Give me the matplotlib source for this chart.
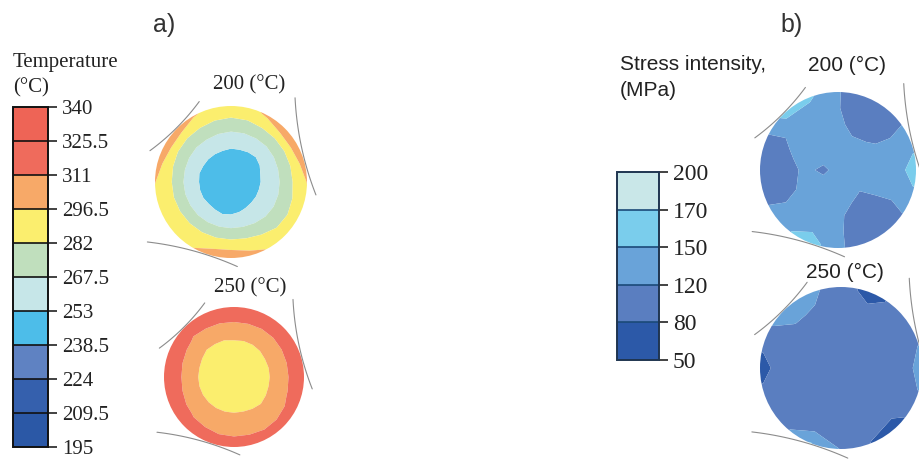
import numpy as np
import matplotlib
matplotlib.use('Agg')
import matplotlib.pyplot as plt
import matplotlib as mpl
from matplotlib.colors import ListedColormap, BoundaryNorm
from matplotlib.patches import Circle

# ---------------- data ----------------
temp_levels = [195, 209.5, 224, 238.5, 253, 267.5, 282, 296.5, 311, 325.5, 340]
temp_labels = ['195', '209.5', '224', '238.5', '253', '267.5', '282', '296.5', '311', '325.5', '340']
temp_colors = ['#2b58a6', '#3560ad', '#5f82c2', '#4dbde9', '#c6e6e8',
               '#c0dfbd', '#fbee6e', '#f7a968', '#ef6b5c', '#ee6456']

stress_levels = [50, 80, 120, 150, 170, 200]
stress_labels = ['50', '80', '120', '150', '170', '200']
stress_colors = ['#2c59a8', '#5a7ec0', '#69a3d9', '#7acdec', '#c9e7e8']

# temperature fields sampled on a polar grid (rows: radius, cols: angle)
temp_radii = [0.0, 0.2, 0.4, 0.6, 0.8, 1.0, 1.2]
temp_angles = [0, 15, 30, 45, 60, 75, 90, 105, 120, 135, 150, 165,
               180, 195, 210, 225, 240, 255, 270, 285, 300, 315, 330, 345]
temp_200 = [
    [240, 240, 240, 240, 240, 240, 240, 240, 240, 240, 240, 240,
     240, 240, 240, 240, 240, 240, 240, 240, 240, 240, 240, 240],
    [243, 243, 243, 243, 243, 243, 243, 243, 243, 243, 243, 243,
     243, 243, 243, 243, 243, 243, 243, 243, 243, 243, 243, 243],
    [253.5, 253, 250.8, 249, 249.9, 250.8, 250.8, 251.6, 251.6, 251.6, 251.6, 250.8,
     251.6, 251.6, 251.6, 252.3, 251.6, 249.9, 250.8, 252.3, 253.5, 254.1, 254.1, 254.1],
    [264.1, 264, 263, 262, 262, 262, 262, 263, 264, 264, 264.5, 265,
     265.1, 265.5, 266, 266, 266.5, 266.8, 266.8, 266.5, 265.5, 264.5, 264, 264],
    [281.1, 281, 280.5, 280, 280, 279.5, 279.5, 279.8, 280.2, 280.2, 281.5, 283,
     283.9, 284, 284.5, 285, 285.5, 286, 286.2, 285, 282, 279, 278.7, 280],
    [297, 304, 310, 309, 300, 292, 290, 292, 298, 307, 309, 303,
     297, 291, 290, 291, 296.5, 305, 308, 302, 295, 291, 290, 291],
    [299, 306, 312, 311, 302, 294, 292, 294, 300, 309, 311, 305,
     299, 293, 292, 293, 298.5, 307, 310, 304, 297, 293, 292, 293],
]
temp_250 = [
    [285, 285, 285, 285, 285, 285, 285, 285, 285, 285, 285, 285,
     285, 285, 285, 285, 285, 285, 285, 285, 285, 285, 285, 285],
    [288, 288, 288, 288, 288, 288, 288, 288, 288, 288, 288, 288,
     288, 288, 288, 288, 288, 288, 288, 288, 288, 288, 288, 288],
    [294, 294, 294, 294, 294, 294, 294, 294, 294, 294, 294, 294,
     294, 294, 294, 294, 294, 294, 294, 294, 294, 294, 294, 294],
    [298.5, 298.5, 298.5, 298, 297.8, 297.8, 298, 297.5, 297.5, 297.3, 298, 298.5,
     298.5, 298.5, 298.5, 298.5, 298.5, 298.5, 298.5, 298.5, 298, 297.5, 298, 298.5],
    [312.5, 312.5, 312, 311.5, 311.5, 312, 312, 311.5, 311, 310.2, 312.5, 314,
     315, 314, 312, 310.5, 310, 309, 308.7, 308.5, 307.5, 308, 309.5, 311.5],
    [318, 318, 318, 318, 318, 318, 318, 318, 318, 318, 318, 318,
     318, 318, 318, 318, 318, 318, 318, 318, 318, 318, 318, 318],
    [320, 320, 320, 320, 320, 320, 320, 320, 320, 320, 320, 320,
     320, 320, 320, 320, 320, 320, 320, 320, 320, 320, 320, 320],
]

# stress fields sampled on a polar grid
stress_radii = [0.0, 0.2, 0.4, 0.6, 0.8, 1.0, 1.2]
stress_angles = [0, 22.5, 45, 67.5, 90, 112.5, 135, 157.5,
                 180, 202.5, 225, 247.5, 270, 292.5, 315, 337.5]
stress_200 = [
    [135, 135, 135, 135, 135, 135, 135, 135, 135, 135, 135, 135, 135, 135, 135, 135],
    [135, 135, 135, 135, 135, 135, 135, 122, 110, 122, 135, 135, 135, 135, 135, 135],
    [135, 135, 132, 128, 134, 135, 135, 134, 131, 134, 135, 135, 133, 126, 119, 134],
    [135, 132, 110, 105, 130, 135, 135, 126, 110, 118, 134, 135, 128, 105, 108, 132],
    [142, 130, 105, 100, 122, 136, 138, 108, 100, 110, 134, 142, 126, 100, 102, 128],
    [168, 135, 108, 100, 122, 156, 156, 110, 100, 115, 140, 168, 126, 100, 105, 135],
    [175, 135, 108, 100, 122, 160, 160, 110, 100, 115, 140, 175, 126, 100, 105, 135],
]
stress_250 = [
    [100, 100, 100, 100, 100, 100, 100, 100, 100, 100, 100, 100, 100, 100, 100, 100],
    [100, 100, 100, 100, 100, 100, 100, 100, 100, 100, 100, 100, 100, 100, 100, 100],
    [100, 100, 100, 100, 100, 100, 100, 100, 100, 100, 100, 100, 100, 100, 100, 100],
    [100, 100, 100, 100, 100, 100, 100, 100, 100, 100, 100, 100, 100, 100, 100, 100],
    [105, 100, 100, 88, 100, 118, 122, 100, 90, 100, 100, 110, 102, 95, 90, 100],
    [140, 112, 100, 60, 102, 128, 148, 100, 60, 100, 110, 152, 118, 78, 66, 112],
    [145, 112, 100, 60, 102, 130, 152, 100, 60, 100, 110, 165, 118, 78, 66, 112],
]

# rollers touching each disc (tangent angle, relative radius, arc range)
roller_phi = [135, 15, 252]
roller_k = [3.0, 4.0, 4.0]
roller_s0 = [-0.45, -0.45, -0.8]
roller_s1 = [0.46, 0.85, 0.42]

# ---------------- figure ----------------
W, H = 919, 459
fig = plt.figure(figsize=(W / 100, H / 100), dpi=100)
ax = fig.add_axes([0, 0, 1, 1])
ax.set_xlim(0, W)
ax.set_ylim(H, 0)
ax.axis('off')

SERIF = 'Liberation Serif'
SANS = 'Liberation Sans'
TXT = '#222222'


def draw_field(cx, cy, R, radii, angles, Z, levels, colors):
    rr = np.asarray(radii, float)
    th = np.deg2rad(np.append(np.asarray(angles, float), 360.0))
    Zw = np.asarray(Z, float)
    Zw = np.hstack([Zw, Zw[:, :1]])
    Rg, Tg = np.meshgrid(rr, th, indexing='ij')
    X = cx + R * Rg * np.cos(Tg)
    Y = cy - R * Rg * np.sin(Tg)
    cs = ax.contourf(X, Y, Zw, levels=levels, colors=colors, antialiased=True)
    clip = Circle((cx, cy), R, transform=ax.transData, facecolor='none', edgecolor='none')
    ax.add_patch(clip)
    cs.set_clip_path(clip)
    # rollers
    for phi, k, s0, s1 in zip(roller_phi, roller_k, roller_s0, roller_s1):
        p = np.deg2rad(phi)
        s = np.linspace(s0, s1, 40)
        psi = p + np.pi - s / k
        u = (1 + k) * np.cos(p) + k * np.cos(psi)
        v = (1 + k) * np.sin(p) + k * np.sin(psi)
        ax.plot(cx + R * 1.01 * u, cy - R * 1.01 * v, color='#8c8c8c', lw=0.8,
                solid_capstyle='round')


draw_field(231, 182, 76, temp_radii, temp_angles, temp_200, temp_levels, temp_colors)
draw_field(234, 377, 70, temp_radii, temp_angles, temp_250, temp_levels, temp_colors)
draw_field(838, 170, 78, stress_radii, stress_angles, stress_200, stress_levels, stress_colors)
draw_field(841, 368, 81, stress_radii, stress_angles, stress_250, stress_levels, stress_colors)

# ---------------- texts ----------------
ax.text(164, 25, 'a)', fontsize=18, family=SANS, color='#333333', ha='center', va='center')
ax.text(792, 25, 'b)', fontsize=18, family=SANS, color='#333333', ha='center', va='center')

ax.text(13, 62, 'Temperature', fontsize=15, family=SERIF, color=TXT, ha='left', va='center')
ax.text(13, 88, '(°C)', fontsize=15, family=SERIF, color=TXT, ha='left', va='center')
ax.text(249, 85, '200 (°C)', fontsize=15, family=SERIF, color=TXT, ha='center', va='center')
ax.text(250, 288, '250 (°C)', fontsize=15, family=SERIF, color=TXT, ha='center', va='center')

ax.text(620, 65, 'Stress intensity,', fontsize=15, family=SANS, color=TXT, ha='left', va='center')
ax.text(620, 90, '(MPa)', fontsize=15, family=SANS, color=TXT, ha='left', va='center')
ax.text(847, 65, '200 (°C)', fontsize=15, family=SANS, color=TXT, ha='center', va='center')
ax.text(845, 272, '250 (°C)', fontsize=15, family=SANS, color=TXT, ha='center', va='center')


# ---------------- colorbars ----------------
def make_cbar(x0, y0, x1, y1, levels, labels, colors, outline, divider, fs):
    cax = fig.add_axes([x0 / W, 1 - y1 / H, (x1 - x0) / W, (y1 - y0) / H])
    sm = mpl.cm.ScalarMappable(norm=BoundaryNorm(levels, len(colors)),
                               cmap=ListedColormap(colors))
    cb = fig.colorbar(sm, cax=cax, ticks=levels, boundaries=levels,
                      spacing='uniform', drawedges=True)
    cb.set_ticks(levels, labels=labels)
    cb.ax.tick_params(length=6.5, width=1.2, pad=3.5, labelsize=fs,
                      colors='#222222', direction='out')
    for t in cb.ax.get_yticklabels():
        t.set_fontfamily(SERIF)
    cb.outline.set_edgecolor(outline)
    cb.outline.set_linewidth(1.4)
    cb.dividers.set_color(divider)
    cb.dividers.set_linewidth(1.2)
    return cb


make_cbar(13, 107, 48, 447, temp_levels, temp_labels, temp_colors, '#111111', '#111111', 15)
make_cbar(617, 172, 659, 360, stress_levels, stress_labels, stress_colors, '#1f3550', '#1b4a78', 17)

fig.savefig('out.png', dpi=100)
